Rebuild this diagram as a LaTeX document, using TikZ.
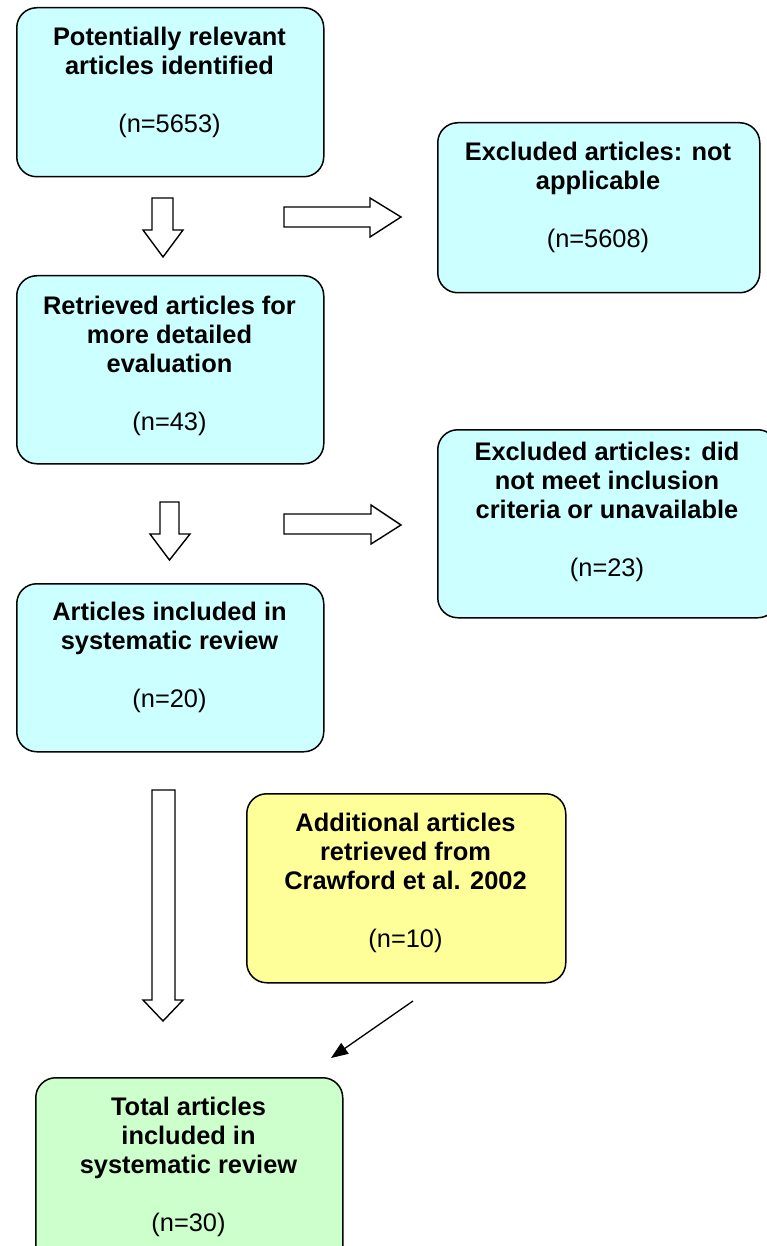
\documentclass[tikz,border=0pt]{standalone}
\usepackage{fontspec}
\setmainfont{Liberation Sans}
\usetikzlibrary{arrows.meta}
\definecolor{cyanfill}{HTML}{CCFFFF}
\definecolor{yelfill}{HTML}{FFFF99}
\definecolor{grnfill}{HTML}{CCFFCC}
\begin{document}
\begin{tikzpicture}[x=1pt,y=-1pt,
  box/.style={draw=black,line width=1.5pt,rounded corners=20pt,anchor=north west},
  txt/.style={anchor=north,inner sep=0pt,align=center,font=\fontsize{25.4}{29}\selectfont\bfseries},
  blk/.style={draw=black,line width=1.4pt,fill=white,line join=miter},
  thinarrow/.style={draw=black,line width=1.3pt,-{Triangle[length=17pt,width=13pt]}}]
\useasboundingbox (0,0) rectangle (767,1246);
\clip (0,0) rectangle (767,1246);

% boxes
\node[box,fill=cyanfill,minimum width=307pt,minimum height=169pt] (b1) at (16,7) {};
\node[box,fill=cyanfill,minimum width=322pt,minimum height=170pt] (e1) at (437,122) {};
\node[box,fill=cyanfill,minimum width=307pt,minimum height=188pt] (b2) at (16,275) {};
\node[box,fill=cyanfill,minimum width=340pt,minimum height=188pt] (e2) at (437,429) {};
\node[box,fill=cyanfill,minimum width=307pt,minimum height=168pt] (b3) at (16,583) {};
\node[box,fill=yelfill,minimum width=319pt,minimum height=189pt] (add) at (246,793) {};
\node[box,fill=grnfill,minimum width=307pt,minimum height=200pt] (tot) at (35,1077) {};

% texts
\node[txt] (t1) at (169.5,27) {Potentially relevant\\articles identified\\[29pt]{\mdseries (n=5653)}};
\node[txt] (te1) at (598,142) {Excluded articles: not\\applicable\\[29pt]{\mdseries (n=5608)}};
\node[txt] (t2) at (169.5,296) {Retrieved articles for\\more detailed\\evaluation\\[29pt]{\mdseries (n=43)}};
\node[txt] (te2) at (607,442) {Excluded articles: did\\not meet inclusion\\criteria or unavailable\\[29pt]{\mdseries (n=23)}};
\node[txt] (t3) at (169.5,602) {Articles included in\\systematic review\\[29pt]{\mdseries (n=20)}};
\node[txt] (tadd) at (405.5,813) {Additional articles\\retrieved from\\Crawford et al. 2002\\[29pt]{\mdseries (n=10)}};
\node[txt] (ttot) at (188.5,1097) {Total articles\\included in\\systematic review\\[29pt]{\mdseries (n=30)}};

% block arrows
\draw[blk] (152,198) -- (173,198) -- (173,230) -- (183,230) -- (163,257) -- (143,230) -- (152,230) -- cycle;
\draw[blk] (160,502) -- (179,502) -- (179,534) -- (190,534) -- (169.5,560) -- (150,534) -- (160,534) -- cycle;
\draw[blk] (152,790) -- (175,790) -- (175,1000) -- (183,1000) -- (163,1021) -- (143,1000) -- (152,1000) -- cycle;
\draw[blk] (284,207) -- (370,207) -- (370,198) -- (401,217) -- (370,237) -- (370,227) -- (284,227) -- cycle;
\draw[blk] (284,514) -- (371,514) -- (371,505) -- (401,525) -- (371,544) -- (371,534) -- (284,534) -- cycle;

% thin arrow
\coordinate (as) at (413,1001);
\coordinate (ae) at (331,1058);
\draw[thinarrow] (as) -- (ae);
\end{tikzpicture}
\end{document}
